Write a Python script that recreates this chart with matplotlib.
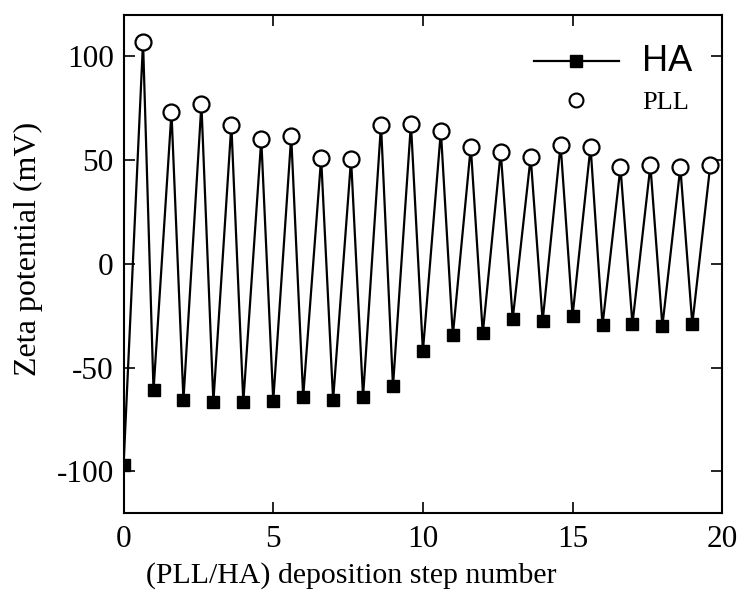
import matplotlib.pyplot as plt
from matplotlib.lines import Line2D

# HA measured at whole steps, PLL at the half step in between
ha_steps = [0, 1, 2, 3, 4, 5, 6, 7, 8, 9, 10, 11, 12, 13, 14, 15, 16, 17, 18, 19]
ha_zeta = [-97, -61, -65.5, -66.5, -66.5, -66, -64, -65.5, -64, -59,
           -42, -34.5, -33.5, -26.5, -27.5, -25, -29.5, -29, -30, -29]
pll_steps = [0.65, 1.6, 2.6, 3.6, 4.6, 5.6, 6.6, 7.6, 8.6, 9.6,
             10.6, 11.6, 12.6, 13.6, 14.6, 15.6, 16.6, 17.6, 18.6, 19.6]
pll_zeta = [107, 73, 77, 67, 60, 61.5, 51, 50.5, 67, 67.5,
            64, 56.5, 54, 51.5, 57.5, 56.5, 46.5, 47.5, 46.5, 47.5]

serif = ["Liberation Serif", "DejaVu Serif"]
plt.rcParams["font.family"] = serif
plt.rcParams["axes.unicode_minus"] = False

fig = plt.figure(figsize=(7.4, 5.93), dpi=100)
ax = fig.add_axes([0.167, 0.135, 0.809, 0.84])

# zigzag line through all points in deposition order
xs, ys = [], []
for i in range(len(ha_steps)):
    xs += [ha_steps[i], pll_steps[i]]
    ys += [ha_zeta[i], pll_zeta[i]]
ax.plot(xs, ys, color="black", linewidth=1.6, zorder=2)
ax.plot(ha_steps, ha_zeta, "s", color="black", markersize=9, zorder=3)
ax.plot(pll_steps, pll_zeta, "o", markerfacecolor="white", markeredgecolor="black",
        markeredgewidth=1.6, markersize=11.5, zorder=3)

ax.set_xlim(0, 20)
ax.set_ylim(-120, 120)
ax.set_xticks([0, 5, 10, 15, 20])
ax.set_yticks([-100, -50, 0, 50, 100])
ax.tick_params(direction="in", length=8, width=1.2, top=True, right=True,
               labelsize=22.5, pad=7)
ax.tick_params(axis="x", pad=9)
for s in ax.spines.values():
    s.set_linewidth(1.5)

ax.set_xlabel("(PLL/HA) deposition step number", fontsize=21.5)
ax.xaxis.set_label_coords(0.38, -0.098)
ax.set_ylabel("Zeta potential (mV)", fontsize=23)
ax.yaxis.set_label_coords(-0.135, 0.53)

###legend, HA in sans and PLL in serif like the figure
handles = [Line2D([], [], color="black", linewidth=1.6, marker="s", markersize=9),
           Line2D([], [], linestyle="none", marker="o", markerfacecolor="white",
                  markeredgecolor="black", markeredgewidth=1.5, markersize=10)]
leg = ax.legend(handles, ["HA", "PLL"], loc="upper right", frameon=False,
                handlelength=3.2, handletextpad=0.9, labelspacing=0.45,
                bbox_to_anchor=(0.99, 0.99), fontsize=19)
leg.get_texts()[0].set_fontfamily(["Liberation Sans", "DejaVu Sans"])
leg.get_texts()[0].set_fontsize(26)
leg.get_texts()[1].set_fontsize(19)

fig.savefig("out.png", dpi=100)
